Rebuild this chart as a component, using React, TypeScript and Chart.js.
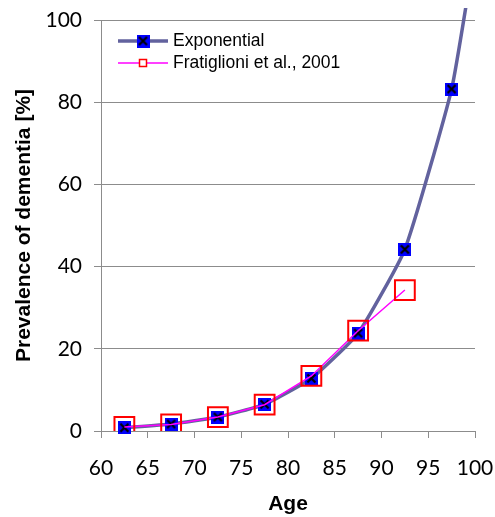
import React, { useEffect, useRef } from "react";
import { Chart, registerables } from "chart.js";
Chart.register(...registerables);

const ages = [62.5, 67.5, 72.5, 77.5, 82.5, 87.5, 92.5, 97.5, 100];
const exponential = [0.8, 1.7, 3.4, 6.5, 12.8, 23.8, 44.2, 83.2, 117];
const fratAges = [62.5, 67.5, 72.5, 77.5, 82.5, 87.5, 92.5];
const fratiglioni = [1.0, 1.6, 3.4, 6.4, 13.4, 24.4, 34.3];
const seriesNames = ["Exponential", "Fratiglioni et al., 2001"];
const xAxis = { min: 60, max: 100, step: 5, title: "Age" };
const yAxis = { min: 0, max: 100, step: 20, title: "Prevalence of dementia [%]" };

const LINE_EXP = "#62629e";
const BLUE = "#0000ff";
const RED = "#ff0000";
const MAGENTA = "#ff00ff";
const GRID = "#8c8c8c";

function makeXMarker(size: number): HTMLCanvasElement {
  const c = document.createElement("canvas");
  c.width = size;
  c.height = size;
  const ctx = c.getContext("2d")!;
  ctx.fillStyle = BLUE;
  ctx.fillRect(0, 0, size, size);
  ctx.strokeStyle = "#000";
  ctx.lineWidth = 2.2;
  const p = 2.5;
  ctx.beginPath();
  ctx.moveTo(p, p);
  ctx.lineTo(size - p, size - p);
  ctx.moveTo(size - p, p);
  ctx.lineTo(p, size - p);
  ctx.stroke();
  return c;
}

export default function App() {
  const ref = useRef<HTMLCanvasElement | null>(null);
  useEffect(() => {
    document.body.style.margin = "0";
    const marker = makeXMarker(13);
    const legendMarker = makeXMarker(13);
    const legendPlugin = {
      id: "customLegend",
      afterDatasetsDraw(chart: any) {
        const ctx = chart.ctx;
        ctx.save();
        const x0 = 118, x1 = 168, xm = 143, tx = 173;
        let y = 41;
        ctx.strokeStyle = LINE_EXP;
        ctx.lineWidth = 3.5;
        ctx.beginPath();
        ctx.moveTo(x0, y);
        ctx.lineTo(x1, y);
        ctx.stroke();
        ctx.drawImage(legendMarker, xm - 6.5, y - 6.5);
        ctx.fillStyle = "#000";
        ctx.font = "17.5px 'Liberation Sans', Arial, sans-serif";
        ctx.textBaseline = "middle";
        ctx.textAlign = "left";
        ctx.fillText(seriesNames[0], tx, y);
        y = 63;
        ctx.strokeStyle = MAGENTA;
        ctx.lineWidth = 1.5;
        ctx.beginPath();
        ctx.moveTo(x0, y);
        ctx.lineTo(x1, y);
        ctx.stroke();
        ctx.strokeStyle = RED;
        ctx.lineWidth = 1.5;
        ctx.fillStyle = "#fff";
        ctx.fillRect(xm - 3.5, y - 3.5, 7, 7);
        ctx.strokeRect(xm - 3.5, y - 3.5, 7, 7);
        ctx.fillStyle = "#000";
        ctx.fillText(seriesNames[1], tx, y);
        ctx.restore();
      },
    };

    const tickFont = { family: "Lato, 'Open Sans', sans-serif", size: 21 };
    const titleFont = { family: "'Liberation Sans', Arial, sans-serif", size: 21, weight: "bold" as const };

    const chart = new Chart(ref.current!, {
      type: "line",
      data: {
        datasets: [
          {
            label: seriesNames[1],
            data: fratAges.map((a, i) => ({ x: a, y: fratiglioni[i] })),
            borderColor: MAGENTA,
            borderWidth: 1.5,
            pointStyle: "rect",
            pointRadius: 14,
            pointBorderColor: RED,
            pointBorderWidth: 2,
            pointBackgroundColor: "rgba(0,0,0,0)",
            fill: false,
            tension: 0,
            order: 0,
          },
          {
            label: seriesNames[0],
            data: ages.map((a, i) => ({ x: a, y: exponential[i] })),
            borderColor: LINE_EXP,
            borderWidth: 3.5,
            pointStyle: marker as any,
            pointRadius: ages.map((_, i) => (i === ages.length - 1 ? 0 : 7)),
            fill: false,
            tension: 0.15,
            order: 1,
            clip: { left: 10, top: 12, right: 10, bottom: 10 } as any,
          },
        ],
      },
      options: {
        responsive: false,
        animation: false,
        layout: { padding: { top: 20, right: 20, left: 0, bottom: 0 } },
        plugins: { legend: { display: false }, tooltip: { enabled: false } },
        scales: {
          x: {
            type: "linear",
            min: xAxis.min,
            max: xAxis.max,
            ticks: { stepSize: xAxis.step, font: tickFont, color: "#000", padding: 18, maxRotation: 0 },
            grid: { drawOnChartArea: false, drawTicks: true, tickLength: 7, tickColor: GRID, color: GRID },
            border: { display: true, color: GRID, width: 1 },
            title: { display: true, text: xAxis.title, font: titleFont, color: "#000", padding: { top: 0, bottom: 0 } },
            afterFit: (s: any) => { s.height = 86; s.paddingLeft = 0; s.paddingRight = 0; },
          },
          y: {
            min: yAxis.min,
            max: yAxis.max,
            ticks: { stepSize: yAxis.step, font: tickFont, color: "#000", padding: 12 },
            grid: { drawTicks: true, tickLength: 7, tickColor: GRID, color: GRID, lineWidth: 1 },
            border: { display: true, color: GRID, width: 1 },
            title: { display: true, text: yAxis.title, font: titleFont, color: "#000", padding: { top: 12, bottom: 0 } },
            afterFit: (s: any) => { s.width = 101; s.paddingTop = 0; s.paddingBottom = 0; },
          },
        },
      },
      plugins: [legendPlugin],
    });
    return () => chart.destroy();
  }, []);
  return <canvas ref={ref} width={495} height={517} style={{ display: "block" }} />;
}
